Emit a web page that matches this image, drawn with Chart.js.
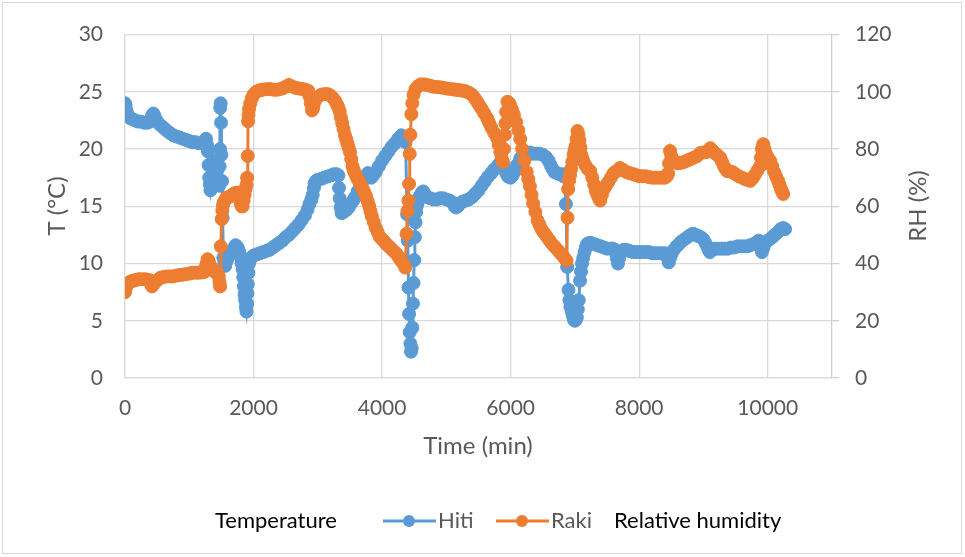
<!DOCTYPE html>
<html lang="en">
<head>
    <meta charset="UTF-8">
    <title>Hiti / Raki temperature and relative humidity</title>
    <script src="https://cdn.jsdelivr.net/npm/chart.js"></script>
    <style>
        body {
            margin: 0;
            background: #ffffff;
        }
        #wrap {
            width: 965px;
            height: 557px;
        }
    </style>
</head>
<body>
    <div id="wrap"><canvas id="chart" width="965" height="557"></canvas></div>

    <script>
        // Hiti - temperature in degC, [time (min), T]
        const hiti = [
            [0, 24.0], [10, 23.8], [25, 23.3], [50, 22.9], [80, 22.7], [120, 22.6], [160, 22.5], [200, 22.4], [250, 22.4], [300, 22.3],
            [350, 22.3], [390, 22.4], [420, 22.9], [440, 23.1], [460, 22.9], [490, 22.5], [530, 22.2], [570, 22.0], [610, 21.8], [650, 21.6],
            [700, 21.4], [750, 21.2], [800, 21.1], [850, 21.0], [900, 20.9], [950, 20.8], [1000, 20.7], [1050, 20.6], [1100, 20.6], [1150, 20.5],
            [1200, 20.5], [1240, 20.6], [1260, 20.9], [1280, 20.3], [1290, 19.8], [1300, 18.6], [1310, 17.5], [1320, 16.9], [1330, 16.4], [1345, 17.0],
            [1360, 17.6], [1380, 18.0], [1400, 18.5], [1420, 19.0], [1440, 18.2], [1455, 17.2], [1465, 16.8], [1472, 18.5], [1478, 20.0], [1482, 23.6],
            [1488, 24.0], [1494, 22.3], [1500, 19.5], [1510, 17.2], [1520, 14.0], [1530, 10.5], [1545, 10.0], [1560, 9.8], [1580, 10.2], [1600, 10.5],
            [1620, 10.7], [1640, 10.8], [1660, 11.0], [1680, 11.2], [1700, 11.4], [1720, 11.6], [1740, 11.5], [1760, 11.3], [1780, 11.0], [1800, 10.6],
            [1815, 10.0], [1830, 9.5], [1840, 8.8], [1850, 8.0], [1860, 7.3], [1870, 6.8], [1880, 6.2], [1890, 5.8], [1900, 6.5], [1905, 7.4],
            [1910, 8.2], [1920, 9.2], [1930, 10.0], [1945, 10.3], [1960, 10.5], [1980, 10.6], [2000, 10.7], [2050, 10.8], [2100, 10.9], [2150, 11.0],
            [2200, 11.1], [2250, 11.2], [2300, 11.4], [2350, 11.6], [2400, 11.8], [2450, 12.0], [2500, 12.3], [2550, 12.5], [2600, 12.8], [2650, 13.1],
            [2700, 13.4], [2750, 13.8], [2800, 14.2], [2840, 14.7], [2870, 15.2], [2900, 15.6], [2920, 16.0], [2940, 16.6], [2950, 17.0], [2970, 17.2],
            [2990, 17.3], [3050, 17.4], [3100, 17.5], [3150, 17.6], [3200, 17.7], [3250, 17.8], [3290, 17.8], [3320, 17.7], [3330, 16.6], [3340, 15.7],
            [3355, 14.9], [3370, 14.4], [3400, 14.5], [3420, 14.6], [3450, 14.7], [3480, 14.9], [3510, 15.2], [3550, 15.5], [3580, 15.8], [3620, 16.3],
            [3660, 16.8], [3700, 17.2], [3740, 17.6], [3780, 17.9], [3810, 17.7], [3830, 17.5], [3860, 17.7], [3900, 18.0], [3950, 18.5], [4000, 19.0],
            [4050, 19.4], [4100, 19.8], [4150, 20.2], [4200, 20.5], [4250, 20.9], [4300, 21.2], [4340, 21.0], [4365, 20.6], [4390, 14.3], [4400, 12.0],
            [4410, 7.9], [4420, 5.6], [4430, 4.0], [4440, 3.0], [4450, 2.3], [4460, 2.6], [4470, 4.4], [4480, 6.5], [4490, 8.3], [4500, 10.3],
            [4510, 12.3], [4520, 13.6], [4530, 14.5], [4545, 15.1], [4560, 15.5], [4580, 15.8], [4600, 16.0], [4620, 16.2], [4640, 16.3], [4670, 16.0],
            [4700, 15.8], [4750, 15.7], [4800, 15.6], [4850, 15.6], [4900, 15.7], [4950, 15.7], [5000, 15.6], [5050, 15.5], [5100, 15.3], [5130, 15.0],
            [5150, 14.9], [5180, 15.0], [5200, 15.2], [5250, 15.4], [5300, 15.5], [5350, 15.6], [5400, 15.8], [5450, 16.1], [5500, 16.4], [5550, 16.8],
            [5600, 17.2], [5650, 17.6], [5700, 17.9], [5740, 18.2], [5780, 18.4], [5820, 18.7], [5850, 18.8], [5880, 18.6], [5900, 18.3], [5930, 17.9],
            [5960, 17.6], [6000, 17.5], [6030, 17.7], [6060, 18.0], [6100, 18.6], [6150, 19.2], [6200, 19.5], [6250, 19.7], [6300, 19.7], [6350, 19.6],
            [6400, 19.6], [6450, 19.6], [6500, 19.5], [6550, 19.3], [6590, 19.0], [6620, 18.6], [6650, 18.3], [6680, 18.0], [6720, 17.9], [6760, 17.8],
            [6800, 17.8], [6830, 17.6], [6860, 15.2], [6880, 9.7], [6900, 7.7], [6915, 6.8], [6930, 6.2], [6950, 5.8], [6970, 5.4], [6985, 5.1],
            [7000, 5.0], [7015, 5.1], [7030, 5.3], [7045, 6.0], [7060, 6.8], [7080, 8.5], [7095, 9.3], [7110, 10.0], [7130, 10.5], [7150, 11.0],
            [7170, 11.4], [7190, 11.7], [7220, 11.8], [7250, 11.8], [7300, 11.7], [7350, 11.6], [7400, 11.5], [7450, 11.4], [7500, 11.3], [7550, 11.3],
            [7590, 11.3], [7620, 11.2], [7650, 10.5], [7670, 10.0], [7690, 10.5], [7720, 11.0], [7760, 11.2], [7800, 11.2], [7850, 11.1], [7900, 11.0],
            [7950, 11.0], [8000, 11.0], [8050, 11.0], [8100, 11.0], [8150, 11.0], [8200, 10.9], [8250, 10.9], [8300, 10.9], [8350, 10.9], [8400, 10.9],
            [8430, 10.6], [8460, 10.1], [8480, 10.5], [8500, 10.8], [8540, 11.2], [8580, 11.5], [8620, 11.7], [8650, 11.9], [8700, 12.1], [8750, 12.3],
            [8800, 12.5], [8840, 12.6], [8880, 12.5], [8920, 12.4], [8960, 12.3], [9000, 12.1], [9030, 11.8], [9060, 11.5], [9080, 11.2], [9100, 11.0],
            [9140, 11.2], [9180, 11.3], [9230, 11.3], [9280, 11.3], [9330, 11.3], [9380, 11.3], [9430, 11.4], [9480, 11.4], [9530, 11.5], [9580, 11.5],
            [9630, 11.5], [9680, 11.5], [9730, 11.6], [9780, 11.7], [9820, 11.8], [9860, 12.0], [9885, 11.6], [9910, 11.0], [9935, 11.4], [9960, 11.8],
            [10000, 12.0], [10050, 12.2], [10090, 12.4], [10130, 12.6], [10170, 12.8], [10200, 13.0], [10240, 13.1], [10270, 13.0]
        ];

        // Raki - relative humidity in %, [time (min), RH]
        const raki = [
            [0, 30.0], [10, 31.2], [25, 32.3], [45, 33.0], [70, 33.5], [100, 33.8], [130, 34.0], [170, 34.3], [210, 34.5], [250, 34.5],
            [300, 34.5], [340, 34.4], [380, 34.2], [400, 33.2], [420, 32.0], [440, 32.6], [470, 33.5], [510, 34.3], [550, 35.0], [600, 35.3],
            [650, 35.5], [700, 35.5], [750, 35.5], [800, 35.8], [850, 36.0], [900, 36.1], [950, 36.3], [1000, 36.5], [1050, 36.8], [1100, 36.8],
            [1150, 36.8], [1190, 36.9], [1230, 37.0], [1250, 38.5], [1270, 40.0], [1285, 41.5], [1300, 41.0], [1315, 39.8], [1330, 39.0], [1350, 38.0],
            [1370, 37.5], [1395, 37.2], [1420, 37.0], [1440, 36.5], [1460, 35.5], [1470, 33.5], [1480, 32.0], [1490, 46.0], [1505, 55.5], [1515, 58.5],
            [1525, 60.5], [1540, 61.5], [1560, 62.3], [1580, 63.0], [1610, 63.2], [1640, 63.5], [1670, 64.0], [1700, 64.5], [1730, 64.7], [1760, 64.8],
            [1780, 63.0], [1800, 61.0], [1815, 60.0], [1830, 60.0], [1845, 62.0], [1860, 64.0], [1875, 66.0], [1890, 67.5], [1900, 70.0], [1910, 77.6],
            [1915, 89.7], [1922, 92.0], [1930, 94.0], [1950, 96.0], [1975, 97.8], [2000, 99.0], [2030, 99.8], [2070, 100.3], [2110, 100.6], [2150, 100.8],
            [2200, 100.9], [2250, 101.0], [2300, 100.8], [2350, 100.7], [2400, 100.9], [2450, 101.2], [2500, 101.8], [2550, 102.4], [2600, 101.9], [2650, 101.4],
            [2700, 101.2], [2750, 101.0], [2800, 100.8], [2850, 100.4], [2870, 98.5], [2890, 96.0], [2910, 93.5], [2930, 94.5], [2950, 96.5], [2990, 98.0],
            [3050, 99.0], [3100, 99.2], [3150, 99.2], [3190, 98.8], [3230, 98.0], [3270, 96.8], [3300, 95.5], [3320, 94.5], [3340, 93.2], [3360, 91.0],
            [3380, 89.0], [3400, 87.0], [3420, 85.0], [3440, 83.5], [3460, 82.0], [3480, 80.5], [3500, 79.0], [3520, 76.5], [3540, 74.0], [3560, 72.5],
            [3580, 71.5], [3600, 70.5], [3620, 69.5], [3640, 68.8], [3660, 68.0], [3680, 67.0], [3700, 66.0], [3725, 64.8], [3750, 63.5], [3775, 61.8],
            [3800, 60.0], [3820, 58.2], [3840, 56.5], [3870, 54.5], [3900, 52.5], [3930, 51.0], [3960, 49.5], [3990, 48.7], [4020, 48.0], [4050, 47.2],
            [4080, 46.5], [4115, 45.8], [4150, 45.0], [4185, 44.2], [4220, 43.5], [4250, 42.5], [4280, 41.5], [4305, 40.8], [4330, 40.0], [4360, 38.6],
            [4380, 50.4], [4395, 58.4], [4410, 62.0], [4420, 67.8], [4430, 78.3], [4440, 85.0], [4455, 92.2], [4470, 96.0], [4490, 99.0], [4520, 101.0],
            [4560, 102.0], [4600, 102.6], [4650, 102.6], [4700, 102.4], [4750, 102.1], [4800, 101.8], [4850, 101.7], [4900, 101.6], [4950, 101.4], [5000, 101.2],
            [5050, 101.0], [5100, 100.9], [5150, 100.7], [5200, 100.6], [5250, 100.4], [5300, 100.2], [5350, 99.7], [5400, 99.0], [5440, 97.8], [5480, 96.5],
            [5515, 95.2], [5550, 94.0], [5590, 92.5], [5634, 90.8], [5665, 89.2], [5700, 87.5], [5745, 85.6], [5790, 83.8], [5815, 81.5], [5840, 79.0],
            [5860, 77.0], [5880, 75.5], [5895, 80.0], [5910, 85.0], [5920, 89.0], [5930, 93.0], [5950, 96.5], [5970, 96.2], [5990, 95.5], [6020, 93.8],
            [6050, 92.0], [6085, 89.5], [6120, 86.5], [6150, 83.5], [6180, 80.0], [6215, 76.0], [6250, 72.0], [6275, 69.5], [6300, 67.0], [6325, 64.0],
            [6350, 61.0], [6385, 58.0], [6420, 55.0], [6450, 53.5], [6480, 52.0], [6520, 50.7], [6560, 49.5], [6600, 48.2], [6640, 47.0], [6680, 46.0],
            [6720, 45.0], [6760, 44.0], [6800, 43.0], [6835, 42.0], [6870, 41.0], [6885, 56.0], [6895, 66.0], [6910, 69.0], [6925, 71.0], [6940, 73.0],
            [6960, 75.5], [6980, 78.0], [6995, 79.5], [7010, 81.0], [7025, 83.5], [7040, 86.3], [7055, 85.0], [7070, 83.0], [7085, 80.5], [7100, 78.0],
            [7115, 76.8], [7130, 75.8], [7165, 74.3], [7200, 73.0], [7240, 72.3], [7270, 70.0], [7300, 67.5], [7325, 65.5], [7350, 64.0], [7375, 62.8],
            [7393, 62.0], [7420, 64.0], [7450, 66.0], [7485, 67.3], [7520, 68.5], [7560, 70.0], [7600, 71.5], [7630, 72.0], [7660, 72.5], [7700, 73.4],
            [7750, 72.7], [7800, 72.0], [7850, 71.6], [7900, 71.3], [7950, 70.9], [8000, 70.5], [8050, 70.5], [8100, 70.5], [8150, 70.2], [8200, 70.0],
            [8250, 70.0], [8300, 70.0], [8350, 70.0], [8400, 70.0], [8430, 70.5], [8450, 71.5], [8465, 75.0], [8480, 79.3], [8500, 77.5], [8520, 76.0],
            [8560, 75.5], [8600, 75.0], [8650, 75.2], [8700, 75.5], [8750, 76.0], [8800, 76.5], [8850, 77.0], [8900, 77.5], [8950, 78.6], [9000, 78.8],
            [9050, 79.0], [9080, 79.6], [9105, 80.3], [9140, 79.5], [9180, 78.5], [9220, 77.8], [9260, 77.0], [9290, 75.5], [9320, 74.0], [9345, 73.0],
            [9370, 72.3], [9410, 72.2], [9450, 72.0], [9500, 71.2], [9550, 70.5], [9600, 70.0], [9650, 69.5], [9690, 69.2], [9730, 68.9], [9765, 69.8],
            [9800, 71.0], [9840, 72.5], [9880, 74.0], [9895, 77.0], [9910, 80.0], [9930, 81.7], [9950, 80.0], [9970, 78.5], [10005, 77.0], [10040, 75.8],
            [10070, 74.0], [10100, 72.0], [10130, 70.5], [10160, 69.0], [10180, 67.7], [10200, 66.4], [10220, 65.3], [10241, 64.3]
        ];

        const xTicks = [0, 2000, 4000, 6000, 8000, 10000];
        const seriesNames = ['Hiti', 'Raki'];
        const seriesColors = ['#5B9BD5', '#ED7D31'];
        const xTitle = 'Time (min)';
        const yTitle = 'T (°C)';
        const y1Title = 'RH (%)';
        const leftNote = 'Temperature';
        const rightNote = 'Relative humidity';

        const toPoints = rows => rows.map(r => ({ x: r[0], y: r[1] }));

        const FONT = 'Lato, "Open Sans", sans-serif';
        const GREY = '#595959';
        const GRID = '#d9d9d9';

        // titles, legend and outer frame
        const decorations = {
            id: 'decorations',
            afterDraw(chart) {
                const ctx = chart.ctx;
                ctx.save();
                ctx.strokeStyle = GRID;
                ctx.lineWidth = 1;
                ctx.strokeRect(2.5, 2.5, 959, 551);

                ctx.fillStyle = GREY;
                ctx.font = '24px ' + FONT;
                ctx.textAlign = 'center';
                ctx.textBaseline = 'middle';
                ctx.fillText(xTitle, 478, 446);

                ctx.save();
                ctx.translate(57, 206);
                ctx.rotate(-Math.PI / 2);
                ctx.fillText(yTitle, 0, 0);
                ctx.restore();

                ctx.save();
                ctx.translate(918, 206);
                ctx.rotate(-Math.PI / 2);
                ctx.fillText(y1Title, 0, 0);
                ctx.restore();

                // legend
                const ly = 521;
                ctx.font = '22px ' + FONT;
                ctx.textAlign = 'left';
                ctx.fillStyle = '#000000';
                ctx.fillText(leftNote, 215, ly);
                ctx.fillText(rightNote, 614, ly);

                const items = [[383, 0], [496, 1]];
                items.forEach(([x0, i]) => {
                    ctx.strokeStyle = seriesColors[i];
                    ctx.lineWidth = 3;
                    ctx.beginPath();
                    ctx.moveTo(x0, ly);
                    ctx.lineTo(x0 + 53, ly);
                    ctx.stroke();
                    ctx.fillStyle = seriesColors[i];
                    ctx.beginPath();
                    ctx.arc(x0 + 26, ly, 6, 0, Math.PI * 2);
                    ctx.fill();
                    ctx.fillStyle = GREY;
                    ctx.fillText(seriesNames[i], x0 + 55, ly);
                });
                ctx.restore();
            }
        };

        const lineSet = (i, rows, axis, order) => ({
            label: seriesNames[i],
            data: toPoints(rows),
            yAxisID: axis,
            showLine: true,
            borderColor: seriesColors[i],
            backgroundColor: seriesColors[i],
            borderWidth: 3,
            pointRadius: 6.5,
            pointBorderWidth: 1,
            order: order
        });

        new Chart(document.getElementById('chart'), {
            type: 'scatter',
            data: {
                datasets: [lineSet(0, hiti, 'y', 2), lineSet(1, raki, 'y1', 1)]
            },
            options: {
                responsive: false,
                animation: false,
                layout: {
                    padding: { top: 33, left: 0, right: 0, bottom: 0 }
                },
                plugins: {
                    legend: { display: false },
                    tooltip: { enabled: false }
                },
                scales: {
                    x: {
                        type: 'linear',
                        min: 0,
                        max: 11000,
                        afterBuildTicks: s => { s.ticks = xTicks.map(v => ({ value: v })); },
                        ticks: {
                            color: GREY,
                            padding: 18,
                            maxRotation: 0,
                            autoSkip: false,
                            callback: v => String(v),
                            font: { family: FONT, size: 21 }
                        },
                        grid: { color: GRID, lineWidth: 1.3, drawTicks: false },
                        border: { color: GRID, width: 1.3 },
                        afterFit: s => { s.height = 557 - 378; }
                    },
                    y: {
                        position: 'left',
                        min: 0,
                        max: 30,
                        ticks: {
                            stepSize: 5,
                            color: GREY,
                            padding: 22,
                            font: { family: FONT, size: 21 }
                        },
                        grid: { color: GRID, lineWidth: 1.3, drawTicks: false },
                        border: { display: false },
                        afterFit: s => { s.width = 125; }
                    },
                    y1: {
                        position: 'right',
                        min: 0,
                        max: 120,
                        ticks: {
                            stepSize: 20,
                            color: GREY,
                            padding: 16,
                            font: { family: FONT, size: 21 }
                        },
                        grid: { drawOnChartArea: false, color: '#cfcfcf', tickLength: 7, lineWidth: 1.3 },
                        border: { color: '#cfcfcf', width: 1.3 },
                        afterFit: s => { s.width = 965 - 832; }
                    }
                }
            },
            plugins: [decorations]
        });
    </script>
</body>
</html>
